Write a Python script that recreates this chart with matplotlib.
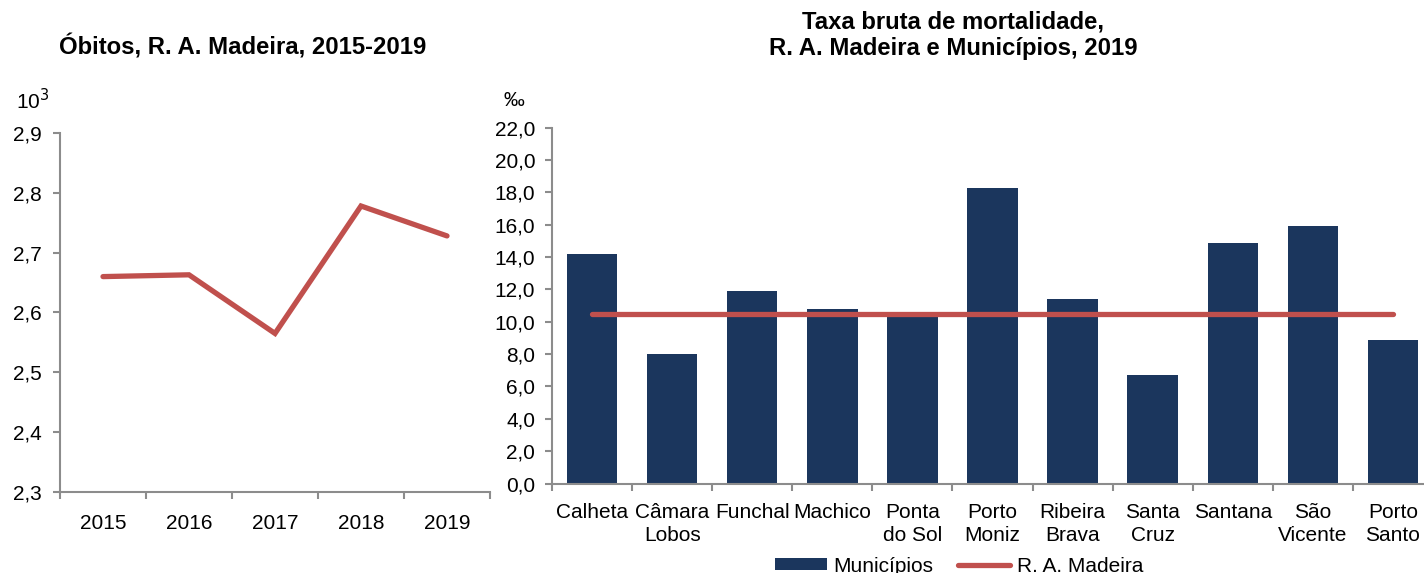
import matplotlib
matplotlib.use("Agg")
import matplotlib.pyplot as plt
import numpy as np

plt.rcParams['font.family'] = ['Liberation Sans', 'DejaVu Sans']

# Left chart data
years = ["2015", "2016", "2017", "2018", "2019"]
obitos = [2.660, 2.663, 2.565, 2.778, 2.728]
left_yticks = [2.3, 2.4, 2.5, 2.6, 2.7, 2.8, 2.9]

# Right chart data
municipios = ["Calheta", "Câmara\nLobos", "Funchal", "Machico", "Ponta\ndo Sol",
              "Porto\nMoniz", "Ribeira\nBrava", "Santa\nCruz", "Santana",
              "São\nVicente", "Porto\nSanto"]
taxa = [14.2, 8.0, 11.9, 10.8, 10.3, 18.3, 11.4, 6.7, 14.9, 15.9, 8.9]
taxa_ram = 10.5
right_yticks = [0, 2, 4, 6, 8, 10, 12, 14, 16, 18, 20, 22]

RED = "#C0504D"
NAVY = "#1B365D"
GRAY = "#8C8C8C"
FS = 15
TFS = 17.2
LW = 3.8

W, H = 1424, 573
fig = plt.figure(figsize=(W/100, H/100), dpi=100)

def fx(px):
    return px / W
def fy(py):
    return 1 - py / H

# ---------- Left axes ----------
axL = fig.add_axes([fx(60), fy(492), fx(490) - fx(60), fy(133) - fy(492)])
xL = np.arange(len(years))
axL.plot(xL, obitos, color=RED, lw=LW, solid_capstyle='round', solid_joinstyle='miter')
axL.set_xlim(-0.5, len(years) - 0.5)
axL.set_ylim(2.3, 2.9)
axL.set_yticks(left_yticks)
axL.set_yticklabels([f"{v:.1f}".replace(".", ",") for v in left_yticks], fontsize=FS)
axL.set_xticks(xL)
axL.set_xticklabels(years, fontsize=FS)
axL.set_xticks(np.arange(len(years) + 1) - 0.5, minor=True)
axL.tick_params(axis='x', which='major', length=0, pad=16)
axL.tick_params(axis='x', which='minor', length=5, color=GRAY, width=1.5, direction='out')
axL.tick_params(axis='y', length=5, color=GRAY, width=1.5, direction='out', pad=8)
for s in ['top', 'right']:
    axL.spines[s].set_visible(False)
for s in ['left', 'bottom']:
    axL.spines[s].set_color(GRAY)
    axL.spines[s].set_linewidth(1.5)
fig.text(fx(243), fy(47), "Óbitos, R. A. Madeira, 2015-2019", fontsize=TFS, fontweight='bold',
         ha='center', va='center')
fig.text(fx(16), fy(101), "10$^{3}$", fontsize=FS, ha='left', va='center')

# ---------- Right axes ----------
axR = fig.add_axes([fx(552), fy(483.5), fx(1433) - fx(552), fy(127.7) - fy(483.5)])
xR = np.arange(len(municipios))
bars = axR.bar(xR, taxa, width=0.63, color=NAVY, label="Municípios", zorder=2)
line, = axR.plot(xR, [taxa_ram] * len(municipios), color=RED, lw=LW,
                 solid_capstyle='round', label="R. A. Madeira", zorder=3)
axR.set_xlim(-0.5, len(municipios) - 0.5)
axR.set_ylim(0, 22)
axR.set_yticks(right_yticks)
axR.set_yticklabels([f"{v:.1f}".replace(".", ",") for v in right_yticks], fontsize=FS)
axR.set_xticks(xR)
axR.set_xticklabels(municipios, fontsize=FS, linespacing=1.3, va='top')
axR.set_xticks(np.arange(len(municipios) + 1) - 0.5, minor=True)
axR.tick_params(axis='x', which='major', length=0, pad=14)
axR.tick_params(axis='x', which='minor', length=5, color=GRAY, width=1.5, direction='out')
axR.tick_params(axis='y', length=5, color=GRAY, width=1.5, direction='out', pad=7)
for s in ['top', 'right']:
    axR.spines[s].set_visible(False)
for s in ['left', 'bottom']:
    axR.spines[s].set_color(GRAY)
    axR.spines[s].set_linewidth(1.5)
fig.text(fx(953), fy(22), "Taxa bruta de mortalidade,", fontsize=TFS, fontweight='bold',
         ha='center', va='center')
fig.text(fx(953), fy(48), "R. A. Madeira e Municípios, 2019", fontsize=TFS, fontweight='bold',
         ha='center', va='center')
fig.text(fx(503), fy(100), "‰", fontsize=FS, ha='left', va='center')

fig.legend(handles=[bars, line], labels=["Municípios", "R. A. Madeira"],
           loc='center', bbox_to_anchor=(fx(959), fy(566)), ncol=2, frameon=False,
           fontsize=FS, handlelength=2.5, handleheight=0.45, columnspacing=1.2,
           handletextpad=0.3, borderpad=0)

fig.savefig("out.png", dpi=100)
